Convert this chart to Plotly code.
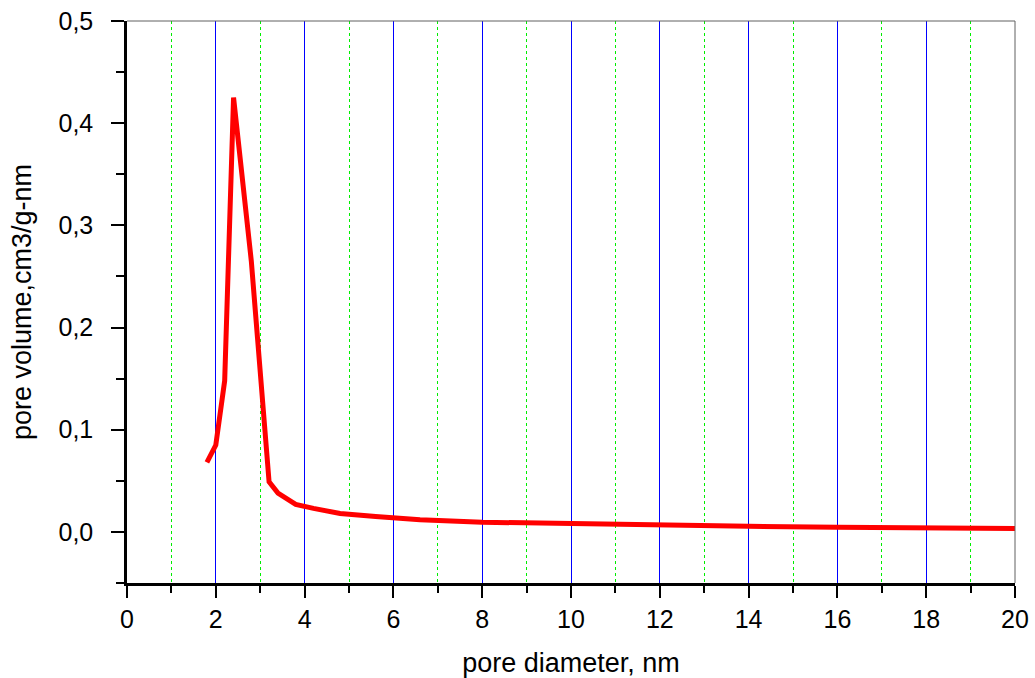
import plotly.graph_objects as go

pore_diameter = [1.8, 2.0, 2.2, 2.4, 2.8, 3.2, 3.4, 3.8, 4.2, 4.8, 5.6, 6.6, 8.0, 10.0, 12.0, 14.0, 16.0, 18.0, 20.0]
pore_volume = [0.068, 0.085, 0.148, 0.425, 0.265, 0.049, 0.038, 0.027, 0.023, 0.018, 0.015, 0.012, 0.0095, 0.0078, 0.0066, 0.0055, 0.0046, 0.0038, 0.0033]

x_title = "pore diameter, nm"
y_title = "pore volume,cm3/g-nm"

font_family = "Liberation Sans, Arial, sans-serif"

fig = go.Figure()
fig.add_trace(go.Scatter(
    x=pore_diameter, y=pore_volume, mode="lines",
    line=dict(color="#ff0000", width=5), showlegend=False,
))

fig.update_layout(
    width=1035, height=678,
    margin=dict(l=127, r=20, t=21, b=95),
    paper_bgcolor="white", plot_bgcolor="white",
    separators=", ",
    font=dict(family=font_family, color="black"),
)

fig.update_xaxes(
    range=[0, 20], tick0=0, dtick=2, automargin=False,
    showline=True, linecolor="black", linewidth=2.5,
    ticks="outside", ticklen=12, tickwidth=2, tickcolor="black",
    tickfont=dict(size=25, family=font_family),
    ticklabelstandoff=0, ticklabeloverflow="allow",
    showgrid=True, gridcolor="#0000ff", gridwidth=1,
    zeroline=False,
    minor=dict(dtick=1, ticks="outside", ticklen=7, tickwidth=2, tickcolor="black",
               showgrid=True, gridcolor="#00ee00", griddash="dot", gridwidth=1),
    title=dict(text=x_title, font=dict(size=27, family=font_family), standoff=26),
)

fig.update_yaxes(
    range=[-0.05, 0.5], tick0=0, dtick=0.1, tickformat=".1f", automargin=False,
    showline=True, linecolor="black", linewidth=2.5,
    ticks="outside", ticklen=13, tickwidth=2, tickcolor="black",
    tickfont=dict(size=25, family=font_family),
    ticklabelstandoff=13, ticklabeloverflow="allow",
    showgrid=False, zeroline=False,
    minor=dict(dtick=0.05, ticks="outside", ticklen=8, tickwidth=2, tickcolor="black", showgrid=False),
    title=dict(text=y_title, font=dict(size=27, family=font_family), standoff=20),
)

fig.add_shape(type="line", xref="paper", yref="paper", x0=0, x1=1, y0=1, y1=1,
              line=dict(color="#606060", width=1))
fig.add_shape(type="line", xref="paper", yref="paper", x0=1, x1=1, y0=0, y1=1,
              line=dict(color="#606060", width=1))

page_fix = (
    "document.body.style.margin='0';"
    "document.body.style.overflow='hidden';"
    "document.querySelectorAll('.main-svg').forEach(function(s){s.style.overflow='visible';});"
)
fig.write_html("out.html", post_script=page_fix, config={"displayModeBar": False})
